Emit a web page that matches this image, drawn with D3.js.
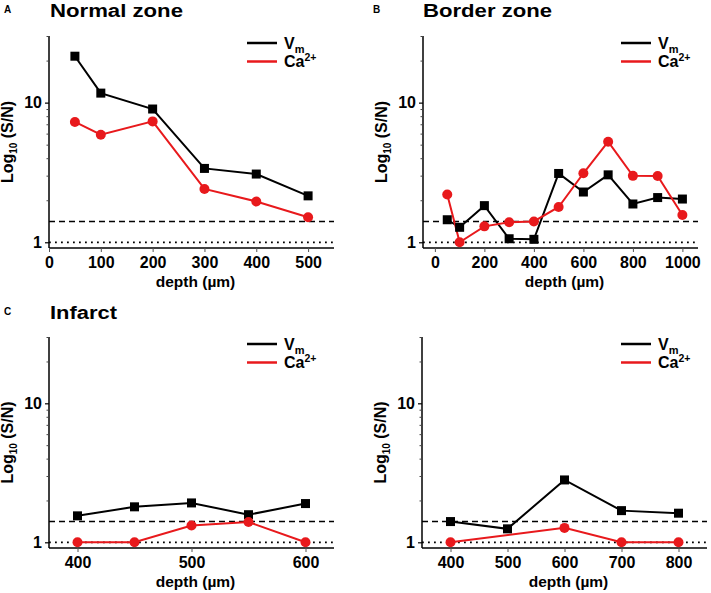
<!DOCTYPE html>
<html>
<head>
<meta charset="utf-8">
<script src="https://cdn.jsdelivr.net/npm/d3@7"></script>
<style>
  body { margin: 0; background: #fff; }
  svg { display: block; font-family: "Liberation Sans", Arial, sans-serif; }
</style>
</head>
<body>
<svg id="chart" width="711" height="593"></svg>
<script>
// ---------- data ----------
const depthA = [50, 100, 200, 300, 400, 500];
const vmA    = [21.5, 11.7, 9.0, 3.38, 3.08, 2.15];
const caA    = [7.27, 5.89, 7.34, 2.41, 1.96, 1.51];

const depthB = [50, 100, 200, 300, 400, 500, 600, 700, 800, 900, 1000];
const vmB    = [1.45, 1.28, 1.83, 1.06, 1.05, 3.11, 2.29, 3.04, 1.88, 2.09, 2.04];
const caB    = [2.20, 1.00, 1.30, 1.39, 1.41, 1.79, 3.12, 5.25, 2.99, 2.98, 1.57];

const depthC = [400, 450, 500, 550, 600];
const vmC    = [1.55, 1.80, 1.92, 1.58, 1.90];
const caC    = [1.00, 1.00, 1.32, 1.40, 1.00];

const depthDvm = [400, 500, 600, 700, 800];
const vmD      = [1.41, 1.25, 2.81, 1.69, 1.62];
const depthDca = [400, 600, 700, 800];
const caD      = [1.00, 1.27, 1.00, 1.00];

const ticksA = [0, 100, 200, 300, 400, 500];
const ticksB = [0, 200, 400, 600, 800, 1000];
const ticksC = [400, 500, 600];
const ticksD = [400, 500, 600, 700, 800];

const thresholdDashed = 1.41;
const thresholdDotted = 1.0;
const yDomain = [0.91, 30];
const yMajor = [1, 10];
const yMinor = [2, 3, 4, 5, 6, 7, 8, 9, 20, 30];

const RED = "#e8191c";

// ---------- drawing ----------
const svg = d3.select("#chart");

function panel(cfg) {
  const g = svg.append("g");
  const x = d3.scaleLinear().domain(cfg.xDomain).range([cfg.left, cfg.right]);
  const y = d3.scaleLog().domain(yDomain).range([cfg.bottom, cfg.top]);

  // reference lines
  g.append("line").attr("x1", cfg.left).attr("x2", cfg.right)
    .attr("y1", y(thresholdDashed)).attr("y2", y(thresholdDashed))
    .attr("stroke", "#000").attr("stroke-width", 1.6).attr("stroke-dasharray", "6,4");
  g.append("line").attr("x1", cfg.left).attr("x2", cfg.right)
    .attr("y1", y(thresholdDotted)).attr("y2", y(thresholdDotted))
    .attr("stroke", "#000").attr("stroke-width", 1.8).attr("stroke-dasharray", "1.8,4.2");

  // y axis
  const yAx = g.append("g").attr("transform", `translate(${cfg.left},0)`)
    .call(d3.axisLeft(y).tickValues(yMajor).tickFormat(d3.format("d")).tickSize(4).tickPadding(3));
  yAx.select(".domain").attr("stroke-width", 1.5).attr("d", `M0,${cfg.top}V${cfg.bottom}`);
  yAx.selectAll(".tick line").attr("stroke-width", 1.2);
  yAx.selectAll("text").attr("font-size", 16).attr("font-weight", "bold").attr("fill", "#000");
  const yMin = g.append("g").attr("transform", `translate(${cfg.left},0)`)
    .call(d3.axisLeft(y).tickValues(yMinor).tickFormat("").tickSize(2.5));
  yMin.select(".domain").remove();
  yMin.selectAll(".tick line").attr("stroke", "#444");

  // x axis
  const xAx = g.append("g").attr("transform", `translate(0,${cfg.bottom})`)
    .call(d3.axisBottom(x).tickValues(cfg.xTicks).tickFormat(d3.format("d")).tickSize(4).tickPadding(5));
  xAx.select(".domain").attr("stroke-width", 1.5).attr("d", `M${cfg.left},0H${cfg.right}`);
  xAx.selectAll(".tick line").attr("stroke", "#555");
  xAx.selectAll("text").attr("font-size", 16).attr("font-weight", "bold").attr("fill", "#000");

  // axis titles
  g.append("text").attr("x", (cfg.left + cfg.right) / 2 + 4).attr("y", cfg.bottom + 39)
    .attr("text-anchor", "middle").attr("font-size", 15.5).attr("font-weight", "bold").text("depth (µm)");
  const yl = g.append("text")
    .attr("transform", `translate(${cfg.left - 36},${(cfg.top + cfg.bottom) / 2}) rotate(-90)`)
    .attr("text-anchor", "middle").attr("font-size", 16).attr("font-weight", "bold");
  yl.append("tspan").text("Log");
  yl.append("tspan").attr("font-size", 10).attr("dy", 4).text("10");
  yl.append("tspan").attr("dy", -4).text(" (S/N)");

  // series
  const line = d3.line().x(d => x(d[0])).y(d => y(d[1]));
  const vm = d3.zip(cfg.vmX, cfg.vm);
  const ca = d3.zip(cfg.caX, cfg.ca);
  g.append("path").datum(vm).attr("d", line).attr("fill", "none")
    .attr("stroke", "#000").attr("stroke-width", 2);
  g.append("path").datum(ca).attr("d", line).attr("fill", "none")
    .attr("stroke", RED).attr("stroke-width", 2);
  const s = 9;
  g.selectAll(".sq").data(vm).enter().append("rect")
    .attr("x", d => x(d[0]) - s / 2).attr("y", d => y(d[1]) - s / 2)
    .attr("width", s).attr("height", s).attr("fill", "#000");
  g.selectAll(".ci").data(ca).enter().append("circle")
    .attr("cx", d => x(d[0])).attr("cy", d => y(d[1])).attr("r", 5).attr("fill", RED);

  // legend
  const lx = cfg.legendX, ly = cfg.top + 7;
  g.append("line").attr("x1", lx).attr("x2", lx + 30).attr("y1", ly).attr("y2", ly)
    .attr("stroke", "#000").attr("stroke-width", 2.5);
  g.append("line").attr("x1", lx).attr("x2", lx + 30).attr("y1", ly + 18.5).attr("y2", ly + 18.5)
    .attr("stroke", RED).attr("stroke-width", 2.5);
  const t1 = g.append("text").attr("x", lx + 37).attr("y", ly + 5.5)
    .attr("font-size", 16).attr("font-weight", "bold");
  t1.append("tspan").text("V");
  t1.append("tspan").attr("font-size", 11).attr("dy", 4).text("m");
  const t2 = g.append("text").attr("x", lx + 37).attr("y", ly + 24)
    .attr("font-size", 16).attr("font-weight", "bold");
  t2.append("tspan").text("Ca");
  t2.append("tspan").attr("font-size", 10.5).attr("dy", -6).text("2+");

  // panel letter and title
  if (cfg.letter) {
    g.append("text").attr("x", cfg.letterX).attr("y", cfg.titleY - 4)
      .attr("font-size", 10).attr("font-weight", "bold").text(cfg.letter);
  }
  if (cfg.title) {
    g.append("text").attr("x", cfg.titleX).attr("y", cfg.titleY)
      .attr("font-size", 18).attr("font-weight", "bold")
      .attr("textLength", cfg.titleW).attr("lengthAdjust", "spacingAndGlyphs")
      .text(cfg.title);
  }
}

panel({ left: 49, right: 334, top: 36, bottom: 248, xDomain: [0, 550], xTicks: ticksA,
  vmX: depthA, vm: vmA, caX: depthA, ca: caA, legendX: 247,
  letter: "A", letterX: 4, title: "Normal zone", titleX: 50, titleY: 17, titleW: 133 });
panel({ left: 423, right: 698, top: 36, bottom: 248, xDomain: [-48, 1063], xTicks: ticksB,
  vmX: depthB, vm: vmB, caX: depthB, ca: caB, legendX: 621,
  letter: "B", letterX: 373, title: "Border zone", titleX: 423, titleY: 17, titleW: 129 });
panel({ left: 49, right: 334, top: 337, bottom: 548, xDomain: [375, 625], xTicks: ticksC,
  vmX: depthC, vm: vmC, caX: depthC, ca: caC, legendX: 247,
  letter: "C", letterX: 4, title: "Infarct", titleX: 50, titleY: 319, titleW: 67 });
panel({ left: 422, right: 707, top: 337, bottom: 548, xDomain: [350, 850], xTicks: ticksD,
  vmX: depthDvm, vm: vmD, caX: depthDca, ca: caD, legendX: 621 });
</script>
</body>
</html>
